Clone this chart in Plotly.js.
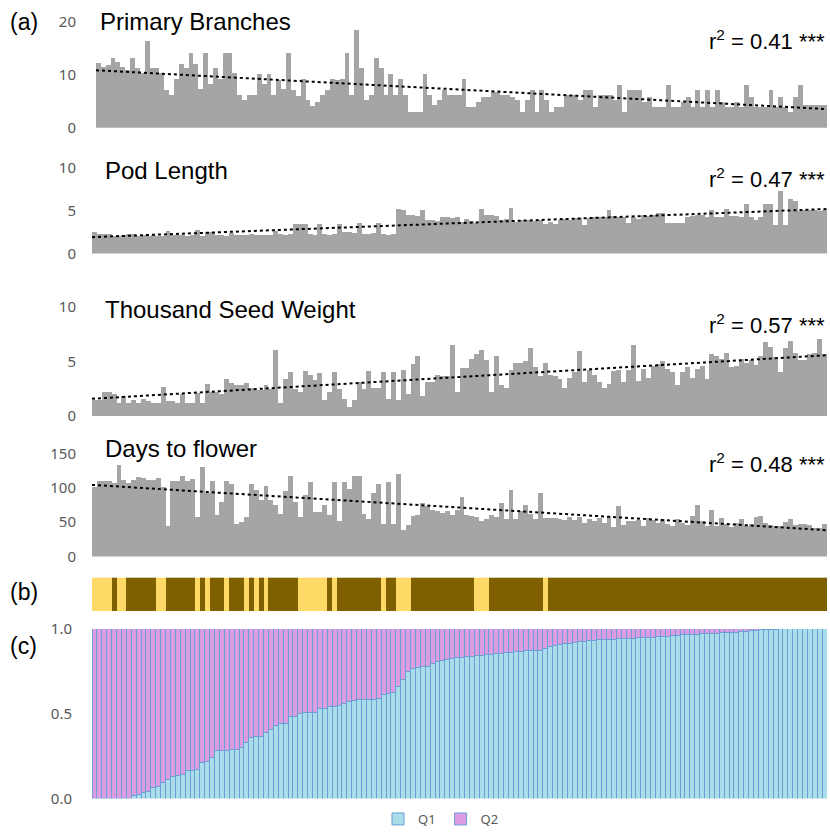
<!DOCTYPE html>
<html>
<head>
<meta charset="utf-8">
<script src="https://cdn.plot.ly/plotly-3.0.1.min.js"></script>
<style>html,body{margin:0;padding:0;background:#fff;}#chart{width:830px;height:834px;}</style>
</head>
<body>
<div id="chart"></div>
<script>
// ---------------- data ----------------
const primaryBranches = [
  12.3,11.5,11.8,13.2,12.5,11.5,10.9,13.2,11.2,10.3,
  16.4,11.2,11.2,10.3,7.1,6.2,9.3,12.1,11.2,14.2,
  12.1,7.4,14.2,8.2,11.2,9.2,14.2,14.2,10.3,6.2,
  5.2,6.2,6.2,10.1,8.2,10.1,6.2,9.0,7.4,14.2,
  7.1,6.0,9.2,5.2,4.2,4.9,6.2,7.1,9.2,9.0,
  9.3,14.2,6.2,18.4,11.2,5.2,6.2,13.2,11.2,6.2,
  10.1,6.2,9.2,6.2,3.0,3.0,3.0,10.1,6.2,4.3,
  5.2,7.1,6.2,6.2,6.2,
  9.3,4.0,4.0,4.9,5.8,5.8,6.8,6.8,6.2,6.2,
  5.8,5.2,3.0,5.2,7.1,3.0,7.1,5.2,3.0,4.0,
  4.0,6.2,6.2,6.2,5.2,7.1,7.1,4.0,6.2,6.2,
  6.2,5.2,8.0,3.0,7.1,7.1,7.1,4.9,5.8,4.0,
  4.0,4.0,8.0,4.0,4.0,4.9,5.8,4.0,7.1,4.0,
  7.1,4.0,7.1,4.9,4.0,4.0,4.9,4.0,8.0,5.8,
  4.0,4.0,4.0,7.1,4.0,5.8,4.0,3.0,5.8,8.0,
  4.3,4.3,4.3,4.3,4.3
];
const podLength = [
  2.5,2.3,2.3,2.3,2.0,2.0,2.1,2.3,2.3,2.0,
  2.1,2.0,2.1,2.0,2.0,2.6,2.1,2.1,2.1,2.0,
  2.1,2.7,2.0,2.5,2.5,2.1,2.1,2.0,2.4,2.2,
  2.2,2.2,2.3,2.2,2.2,2.1,2.2,2.6,2.3,2.2,
  2.3,3.4,3.4,3.4,2.3,2.2,3.4,2.3,2.2,2.3,
  3.4,2.5,2.5,2.4,3.6,2.3,2.3,2.4,3.6,2.3,
  2.2,2.3,5.2,5.0,4.5,4.5,4.4,5.0,3.9,3.9,
  3.8,4.2,4.2,4.1,4.2,3.7,4.0,3.8,3.6,5.2,
  4.5,4.5,4.4,3.9,4.0,5.3,3.7,3.9,3.9,3.9,
  3.8,3.9,3.4,3.7,3.4,3.9,4.0,3.9,4.1,4.1,
  3.3,4.1,4.2,4.2,4.2,5.0,4.4,4.2,4.2,3.6,
  4.2,4.0,4.5,4.4,4.5,4.7,4.7,3.6,3.6,3.6,
  3.6,4.2,4.4,4.5,4.5,4.2,5.0,4.2,4.2,5.2,
  4.4,4.3,4.2,5.7,4.2,3.9,4.2,5.8,5.8,3.3,
  7.3,3.3,6.3,6.1,4.9,5.0,5.0,5.0,4.9,5.0
];
const seedWeight = [
  1.5,1.5,2.2,2.2,2.0,1.2,1.8,1.2,1.5,1.2,1.6,1.4,1.2,
  1.2,2.7,1.4,1.4,1.2,2.0,
  1.2,1.2,2.1,1.2,2.9,2.2,2.2,2.0,3.4,3.0,2.8,2.8,3.0,2.6,2.4,
  2.4,2.8,2.5,6.1,1.2,3.4,4.0,2.5,2.2,4.1,3.8,3.3,3.9,1.5,2.2,
  4.0,2.5,1.6,0.8,1.5,3.1,2.5,4.1,2.6,2.6,4.0,1.6,4.0,1.5,4.2,
  2.0,4.8,5.5,1.8,3.1,3.1,3.8,
  3.7,3.7,6.5,2.2,4.4,4.4,5.2,5.7,6.1,5.1,2.2,5.5,2.8,2.6,4.2,
  4.9,4.9,5.0,6.2,4.5,3.7,4.9,3.8,3.7,3.4,2.6,3.5,4.0,6.0,3.1,
  4.2,3.8,3.1,2.6,2.9,4.1,4.2,3.1,4.2,6.5,3.2,4.3,3.5,4.6,4.8,
  5.0,4.3,4.0,2.8,4.0,4.5,3.5,4.3,4.6,3.4,5.7,5.5,5.2,5.8,4.5,
  4.6,5.2,4.9,5.1,4.7,5.5,6.8,6.3,5.4,4.0,6.2,6.9,5.8,5.1,5.1,
  5.7,5.8,7.1,5.7
];
const daysToFlower = [
  101,110,110,110,107,133,111,107,112,116,
  114,111,111,114,101,45,110,110,117,110,
  113,57,130,93,110,60,80,110,106,47,
  51,57,106,97,83,103,83,75,62,95,
  117,80,57,90,108,65,65,75,61,108,
  52,109,98,117,117,62,54,93,106,48,
  108,47,120,39,46,59,61,78,73,68,
  66,64,67,61,68,86,61,59,58,52,
  54,61,57,78,54,97,54,67,75,62,
  54,92,56,56,56,54,53,57,53,58,
  49,54,52,56,49,59,43,74,46,52,
  52,53,45,56,53,49,55,48,44,54,
  49,46,59,75,52,45,68,45,56,47,
  43,49,54,45,48,57,59,49,46,45,
  45,51,55,46,48,48,46,42,41,48
];
const q1 = [
  0,0,0,0,0,0,0,0,0.016,0.02,0.035,0.04,0.065,0.07,0.094,0.113,0.127,0.133,
  0.142,0.162,0.166,0.17,0.21,0.22,0.24,0.28,0.28,0.28,0.285,0.29,0.30,0.327,
  0.357,0.362,0.366,0.386,0.405,0.43,0.444,0.444,0.48,0.48,0.503,0.508,0.508,
  0.508,0.528,0.532,0.542,
  0.542,0.546,0.56,0.571,0.58,0.585,0.585,0.585,0.585,0.59,
  0.61,0.62,0.624,0.66,0.70,0.746,0.766,0.772,0.776,0.78,
  0.795,0.805,0.815,0.819,0.825,0.83,0.834,0.838,0.838,0.842,
  0.842,0.848,0.848,0.854,0.854,0.858,0.862,0.864,0.864,0.87,
  0.87,0.87,0.873,0.887,0.897,0.90,0.906,0.912,0.916,0.922,
  0.926,0.926,0.932,0.932,0.936,0.936,0.94,0.94,0.943,0.943,
  0.945,0.945,0.947,0.947,0.949,0.949,0.953,0.953,0.957,0.961,
  0.961,0.965,0.965,0.967,0.967,0.971,0.971,0.975,0.975,0.977,
  0.977,0.98,0.98,0.986,0.986,0.99,0.99,0.994,0.994,0.996,0.996,
  1,1,1,1,1,1,1,1,1,1
];
const q2 = q1.map(v => +(1 - v).toFixed(3));
// group strip (b): run lengths, alternating starting with the light group
const stripRunLengths = [4,1,2,6,2,6,1,1,1,3,1,3,1,1,1,1,1,6,6,1,1,9,1,2,3,13,3,11,1,57];
const stripGroups = [1, 0]; // 1 = light, 0 = dark
const yTicks1 = [0, 10, 20];
const yTicks2 = [0, 5, 10];
const yTicks3 = [0, 5, 10];
const yTicks4 = [0, 50, 100, 150];
const yTicks6 = [0, 0.5, 1];
const yTickText6 = ['0.0', '0.5', '1.0'];
const panelTitles = ['Primary Branches', 'Pod Length', 'Thousand Seed Weight', 'Days to flower'];
const rSquared = ['0.41', '0.47', '0.57', '0.48'];
const legendNames = ['Q1', 'Q2'];

// ---------------- helpers ----------------
const W = 830, H = 834;
const px = x => x / W;
const py = y => 1 - y / H;
const indexOf = arr => arr.map((_, i) => i);

const stripVals = [];
stripRunLengths.forEach((len, k) => { for (let j = 0; j < len; j++) stripVals.push(stripGroups[k % 2]); });

function trend(vals) {
  const n = vals.length;
  let sx = 0, sy = 0, sxx = 0, sxy = 0;
  vals.forEach((v, i) => { sx += i; sy += v; sxx += i * i; sxy += i * v; });
  const b = (n * sxy - sx * sy) / (n * sxx - sx * sx);
  const a = (sy - b * sx) / n;
  const xs = [-0.5, n - 0.5];
  return { x: xs, y: xs.map(x => a + b * x) };
}

const GREY = '#a5a5a5';
const series = [primaryBranches, podLength, seedWeight, daysToFlower];
const traces = [];
series.forEach((vals, k) => {
  const ax = k === 0 ? '' : String(k + 1);
  traces.push({
    type: 'bar', x: indexOf(vals), y: vals, xaxis: 'x' + ax, yaxis: 'y' + ax,
    marker: { color: GREY, line: { width: 0 } }, showlegend: false, hoverinfo: 'skip'
  });
  const t = trend(vals);
  traces.push({
    type: 'scatter', mode: 'lines', x: t.x, y: t.y, xaxis: 'x' + ax, yaxis: 'y' + ax,
    line: { color: '#000', width: 2, dash: 'dot' }, showlegend: false, hoverinfo: 'skip'
  });
});
traces.push({
  type: 'heatmap', x: indexOf(stripVals), y: [0], z: [stripVals], xaxis: 'x5', yaxis: 'y5',
  colorscale: [[0, '#7f6000'], [1, '#ffd966']], zmin: 0, zmax: 1, showscale: false, hoverinfo: 'skip'
});
const OUT = '#6b9fd6';
traces.push({
  type: 'bar', name: legendNames[0], x: indexOf(q1), y: q1, xaxis: 'x6', yaxis: 'y6',
  marker: { color: '#a8dde9', line: { color: OUT, width: 1 } }, hoverinfo: 'skip'
});
traces.push({
  type: 'bar', name: legendNames[1], x: indexOf(q2), y: q2, xaxis: 'x6', yaxis: 'y6',
  marker: { color: '#dc9ce2', line: { color: OUT, width: 1 } }, hoverinfo: 'skip'
});

const tickFont = { family: 'Noto Sans, Open Sans, sans-serif', size: 15, color: '#595959' };
function yax(domTop, domBottom, range, tickvals, ticklen, ticktext) {
  const a = {
    domain: [py(domBottom), py(domTop)], range: range, tickvals: tickvals,
    showgrid: false, zeroline: false, showline: false, ticks: 'outside', ticklen: ticklen,
    tickcolor: 'rgba(0,0,0,0)', tickfont: tickFont, automargin: false, fixedrange: true
  };
  if (ticktext) a.ticktext = ticktext;
  return a;
}
function xax(left, anchor, n) {
  return { domain: [px(left), px(827)], range: [-0.5, n - 0.5], visible: false, anchor: anchor, fixedrange: true };
}

const titleFont = { family: 'Liberation Sans, Arial, sans-serif', size: 24, color: '#000' };
const rFont = { family: 'Liberation Sans, Arial, sans-serif', size: 22, color: '#000' };
const labFont = { family: 'Liberation Sans, Arial, sans-serif', size: 23, color: '#000' };
const titleY = [22, 172, 313, 453];
const titleX = [98, 103, 103, 103];
const rY = [40, 180, 327, 467];
const annotations = [];
panelTitles.forEach((t, k) => {
  annotations.push({ text: t, xref: 'paper', yref: 'paper', x: px(titleX[k]), y: py(titleY[k]),
    xanchor: 'left', yanchor: 'middle', showarrow: false, font: titleFont });
  annotations.push({ text: 'r<sup>2</sup> = ' + rSquared[k] + ' ***', xref: 'paper', yref: 'paper',
    x: px(827), y: py(rY[k]), xanchor: 'right', yanchor: 'middle', showarrow: false, font: rFont });
});
[['(a)', 22], ['(b)', 598], ['(c)', 652]].forEach(([t, y]) => {
  annotations.push({ text: t, xref: 'paper', yref: 'paper', x: px(8), y: py(y),
    xanchor: 'left', yanchor: 'middle', showarrow: false, font: labFont });
});

const layout = {
  width: W, height: H, margin: { l: 0, r: 0, t: 0, b: 0 },
  paper_bgcolor: '#fff', plot_bgcolor: 'rgba(0,0,0,0)',
  barmode: 'stack', bargap: 0,
  xaxis: xax(96, 'y', primaryBranches.length),
  xaxis2: xax(92, 'y2', podLength.length),
  xaxis3: xax(92, 'y3', seedWeight.length),
  xaxis4: xax(92, 'y4', daysToFlower.length),
  xaxis5: xax(92, 'y5', stripVals.length),
  xaxis6: xax(92, 'y6', q1.length),
  yaxis: Object.assign(yax(16.7, 129, [0, 21], yTicks1, 16), { anchor: 'x' }),
  yaxis2: Object.assign(yax(164.65, 256, [0, 10.5], yTicks2, 12), { anchor: 'x2' }),
  yaxis3: Object.assign(yax(304.5, 420, [0, 10.5], yTicks3, 12), { anchor: 'x3' }),
  yaxis4: Object.assign(yax(450.9, 562, [0, 160], yTicks4, 12), { anchor: 'x4' }),
  yaxis5: { domain: [py(617), py(583)], range: [-0.5, 0.5], visible: false, anchor: 'x5', fixedrange: true },
  yaxis6: Object.assign(yax(635, 806, [0, 1], yTicks6, 16, yTickText6), { anchor: 'x6' }),
  showlegend: true,
  legend: { orientation: 'h', traceorder: 'normal', x: px(441), xanchor: 'center', y: py(827), yanchor: 'middle',
    itemwidth: 30, tracegroupgap: 0,
    font: { family: 'Noto Sans, sans-serif', size: 13, color: '#595959' }, bgcolor: 'rgba(0,0,0,0)' },
  annotations: annotations
};

Plotly.newPlot('chart', traces, layout, { displayModeBar: false, staticPlot: true });
</script>
</body>
</html>
